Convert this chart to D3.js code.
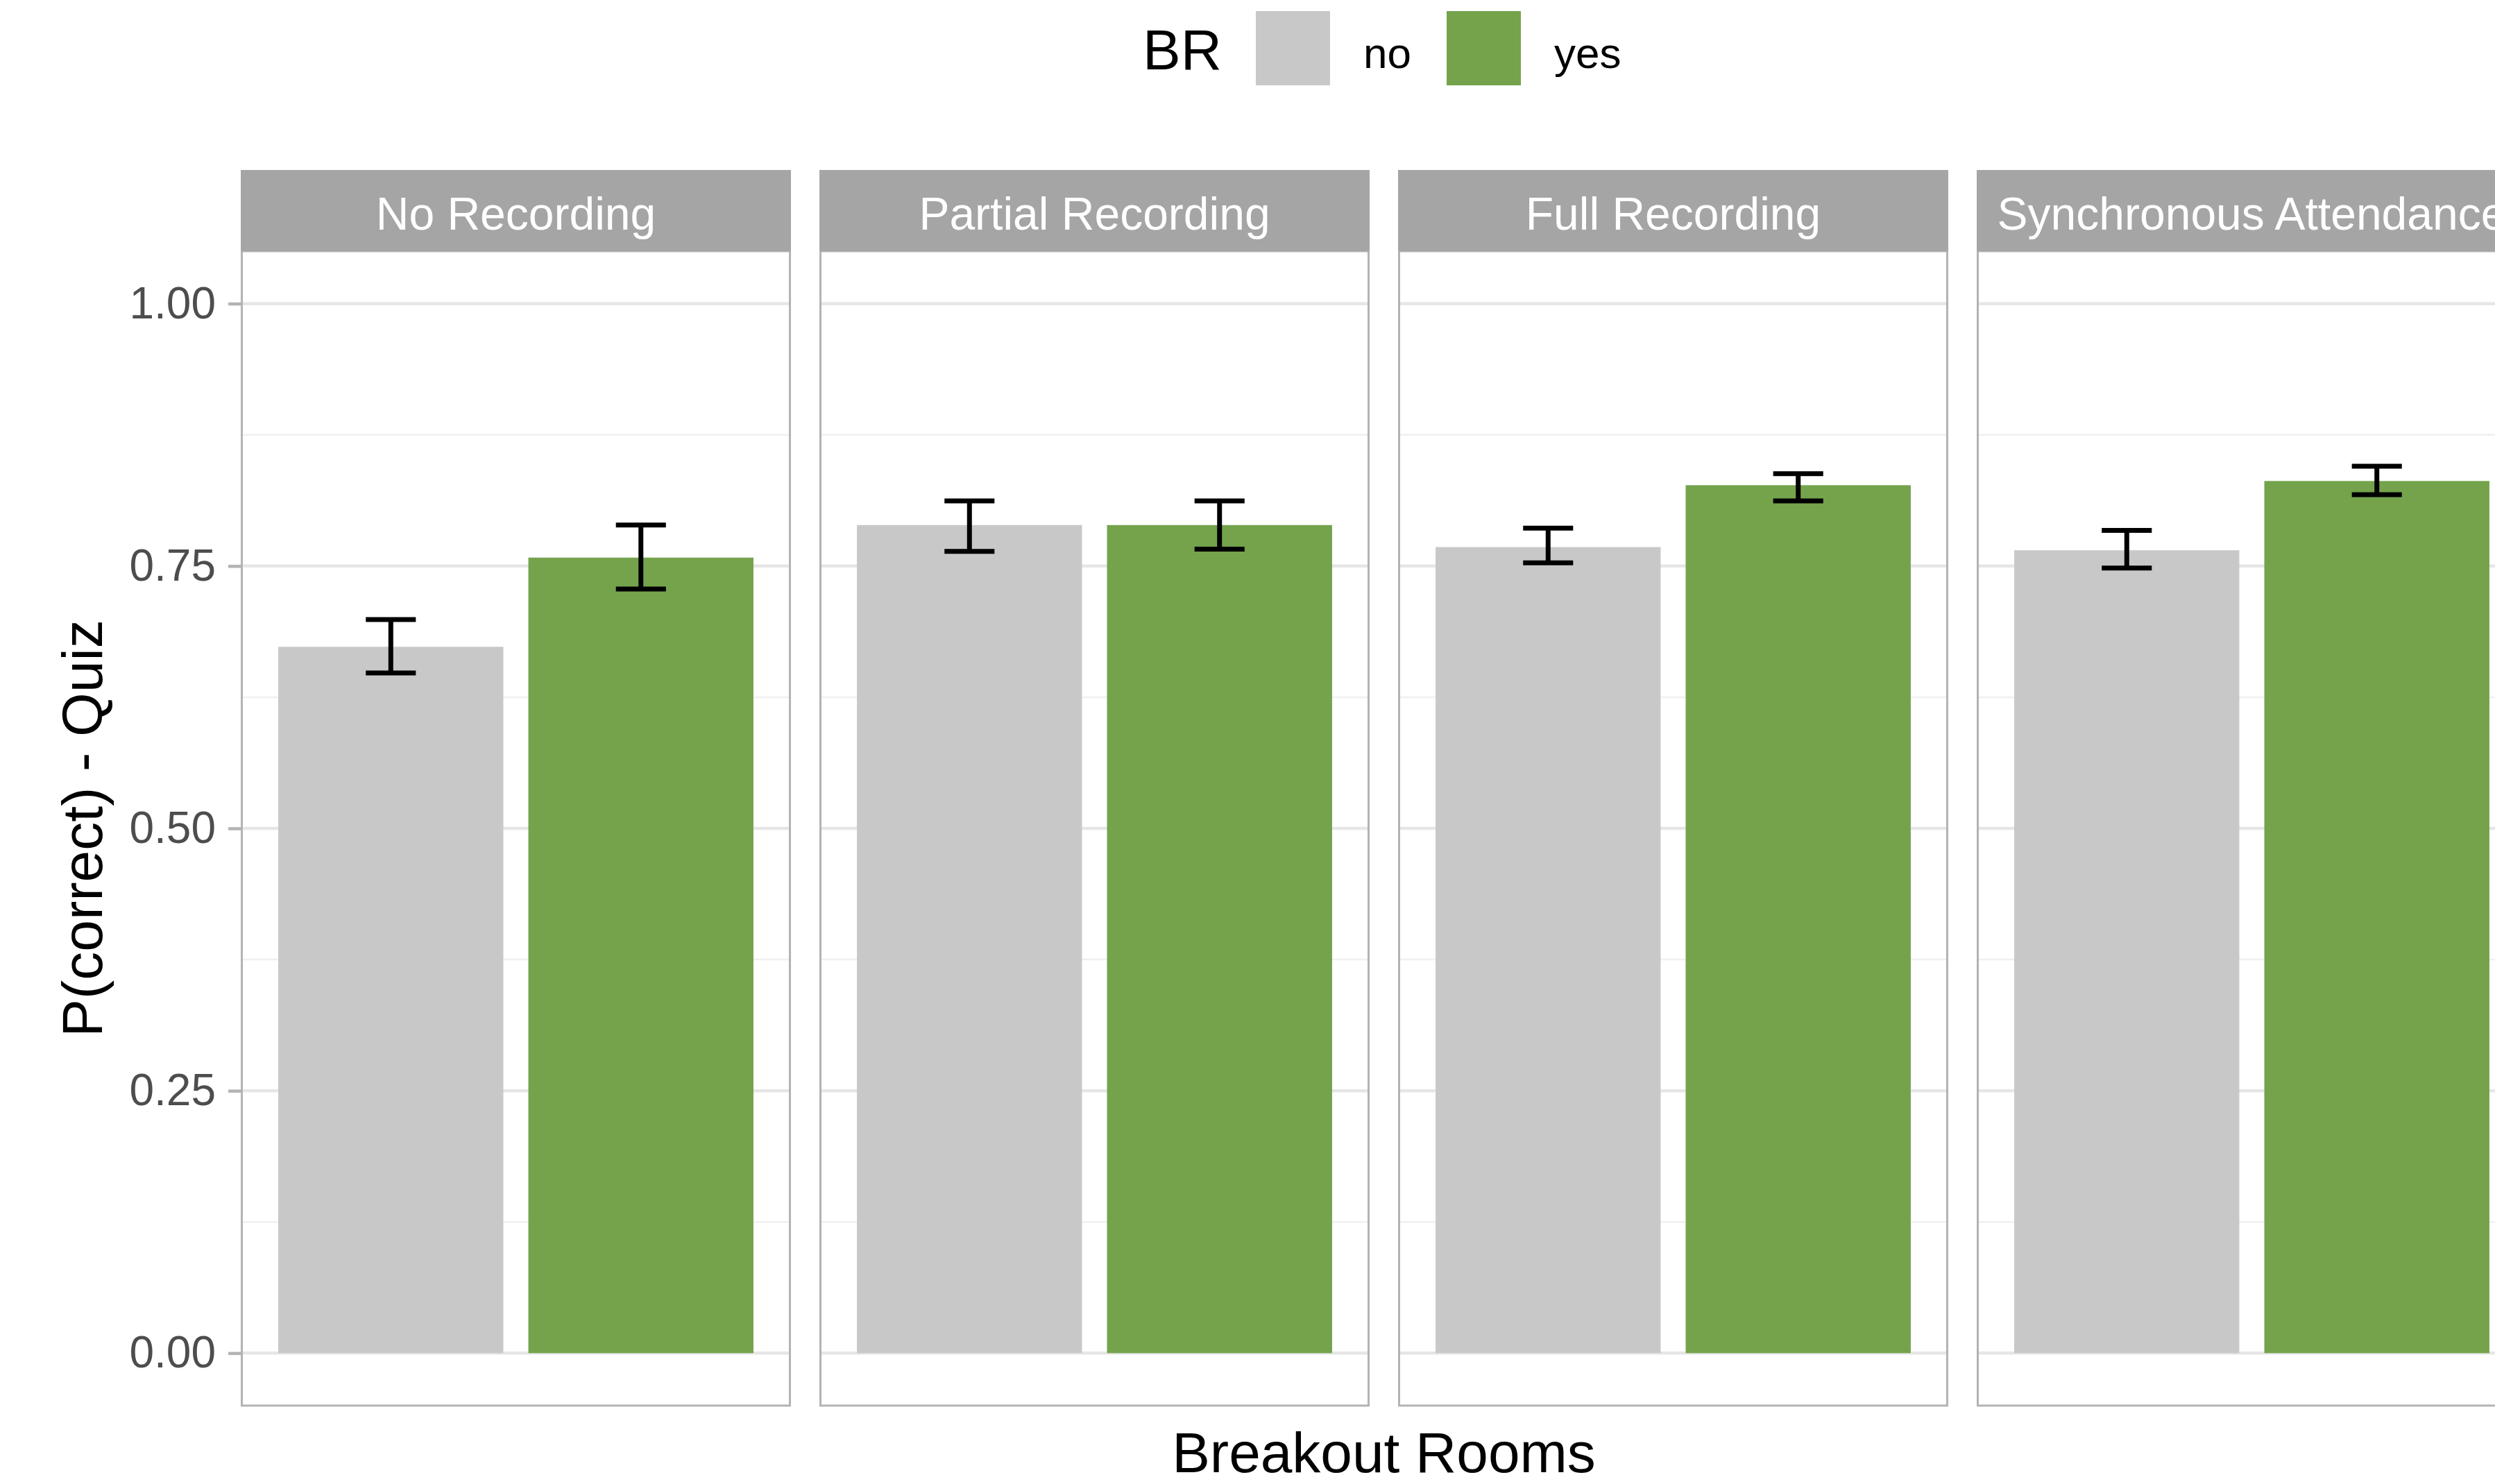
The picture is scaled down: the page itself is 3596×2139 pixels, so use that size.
<!DOCTYPE html>
<html>
<head>
<meta charset="utf-8">
<script src="https://cdn.jsdelivr.net/npm/d3@7"></script>
<style>
  html, body { margin: 0; padding: 0; background: #ffffff; overflow: hidden; }
  svg { display: block; font-family: "Liberation Sans", Arial, Helvetica, sans-serif; }
</style>
</head>
<body>
<svg id="chart" width="3596" height="2139"></svg>
<script>
// Facets (recording condition) and fill levels (breakout rooms)
const conditions = ["No Recording", "Partial Recording", "Full Recording", "Synchronous Attendance"];
const brLevels = ["no", "yes"];

// Mean proportion correct on the quiz, per condition
const meanNo  = [0.673, 0.789, 0.768, 0.765];
const meanYes = [0.758, 0.789, 0.827, 0.831];

// Error bar limits
const lowerNo  = [0.648, 0.764, 0.753, 0.748];
const upperNo  = [0.699, 0.812, 0.786, 0.784];
const lowerYes = [0.728, 0.766, 0.812, 0.818];
const upperYes = [0.789, 0.812, 0.838, 0.845];

const yTicks = [0, 0.25, 0.5, 0.75, 1];
const yMinor = [0.125, 0.375, 0.625, 0.875];

const fillColors = { no: "#c8c8c8", yes: "#74a34c" };

// Build a tidy table from the arrays
const rows = [];
conditions.forEach((c, i) => {
  rows.push({ cond: c, br: "no",  mean: meanNo[i],  lo: lowerNo[i],  hi: upperNo[i] });
  rows.push({ cond: c, br: "yes", mean: meanYes[i], lo: lowerYes[i], hi: upperYes[i] });
});

const svg = d3.select("#chart");

// Layout of the panel grid
const panelLeft = 347, panelTop = 362, panelBottom = 2026;
const panelW = 793, panelGap = 41;
const stripTop = 245;

const facetX = d3.scaleBand()
  .domain(conditions)
  .range([panelLeft, panelLeft + conditions.length * panelW + (conditions.length - 1) * panelGap])
  .paddingInner(panelGap / (panelW + panelGap))
  .paddingOuter(0);

const y = d3.scaleLinear().domain([-0.05, 1.05]).range([panelBottom, panelTop]);

const x = d3.scalePoint().domain(brLevels).range([0, facetX.bandwidth()]).padding(0.6);
const step = x.step();

conditions.forEach(cond => {
  const g = svg.append("g").attr("transform", `translate(${facetX(cond)},0)`);
  const w = facetX.bandwidth();

  // minor grid
  g.selectAll("line.minor").data(yMinor).join("line")
    .attr("x1", 0).attr("x2", w)
    .attr("y1", d => y(d)).attr("y2", d => y(d))
    .attr("stroke", "#f0f0f0").attr("stroke-width", 2.5);

  // major grid
  g.selectAll("line.major").data(yTicks).join("line")
    .attr("x1", 0).attr("x2", w)
    .attr("y1", d => y(d)).attr("y2", d => y(d))
    .attr("stroke", "#e6e6e6").attr("stroke-width", 4.5);

  const data = rows.filter(r => r.cond === cond);

  // bars
  g.selectAll("rect.bar").data(data).join("rect")
    .attr("x", d => x(d.br) - 0.45 * step)
    .attr("width", 0.9 * step)
    .attr("y", d => y(d.mean))
    .attr("height", d => y(0) - y(d.mean))
    .attr("fill", d => fillColors[d.br]);

  // error bars
  const eb = g.selectAll("g.eb").data(data).join("g");
  eb.append("line")
    .attr("x1", d => x(d.br)).attr("x2", d => x(d.br))
    .attr("y1", d => y(d.lo)).attr("y2", d => y(d.hi))
    .attr("stroke", "#000").attr("stroke-width", 7);
  eb.append("line")
    .attr("x1", d => x(d.br) - 0.1 * step).attr("x2", d => x(d.br) + 0.1 * step)
    .attr("y1", d => y(d.hi)).attr("y2", d => y(d.hi))
    .attr("stroke", "#000").attr("stroke-width", 7);
  eb.append("line")
    .attr("x1", d => x(d.br) - 0.1 * step).attr("x2", d => x(d.br) + 0.1 * step)
    .attr("y1", d => y(d.lo)).attr("y2", d => y(d.lo))
    .attr("stroke", "#000").attr("stroke-width", 7);

  // panel border
  g.append("rect")
    .attr("x", 1.5).attr("y", panelTop)
    .attr("width", w - 3).attr("height", panelBottom - panelTop)
    .attr("fill", "none").attr("stroke", "#b3b3b3").attr("stroke-width", 3);

  // strip
  g.append("rect")
    .attr("x", 0).attr("y", stripTop)
    .attr("width", w).attr("height", panelTop - stripTop)
    .attr("fill", "#a5a5a5");
  g.append("text")
    .attr("x", w / 2).attr("y", 331)
    .attr("text-anchor", "middle")
    .attr("fill", "#ffffff")
    .attr("font-size", 66)
    .text(cond);
});

// y axis
const yAxis = svg.append("g")
  .attr("transform", `translate(${panelLeft},0)`)
  .call(d3.axisLeft(y).tickValues(yTicks).tickFormat(d3.format(".2f")).tickSize(18).tickPadding(18));
yAxis.select(".domain").remove();
yAxis.selectAll(".tick line").attr("stroke", "#b3b3b3").attr("stroke-width", 4.5);
yAxis.selectAll(".tick text")
  .attr("fill", "#4d4d4d")
  .attr("font-size", 64)
  .attr("font-family", "Liberation Sans, Arial, sans-serif");

// axis titles
svg.append("text")
  .attr("transform", `translate(147,${(panelTop + panelBottom) / 2}) rotate(-90)`)
  .attr("text-anchor", "middle")
  .attr("font-size", 82)
  .attr("fill", "#000")
  .text("P(correct) - Quiz");

const fullLeft = facetX.range()[0], fullRight = facetX.range()[1];
svg.append("text")
  .attr("x", (fullLeft + fullRight) / 2).attr("y", 2122)
  .attr("text-anchor", "middle")
  .attr("font-size", 82)
  .attr("fill", "#000")
  .text("Breakout Rooms");

// legend
const legend = svg.append("g");
legend.append("text")
  .attr("x", 1761).attr("y", 100)
  .attr("text-anchor", "end")
  .attr("font-size", 82)
  .attr("fill", "#000")
  .text("BR");
const keyX = { no: 1810, yes: 2085 };
brLevels.forEach(b => {
  legend.append("rect")
    .attr("x", keyX[b]).attr("y", 16)
    .attr("width", 107).attr("height", 107)
    .attr("fill", fillColors[b]);
  legend.append("text")
    .attr("x", keyX[b] + 155).attr("y", 98)
    .attr("font-size", 62)
    .attr("fill", "#000")
    .text(b);
});
</script>
</body>
</html>
